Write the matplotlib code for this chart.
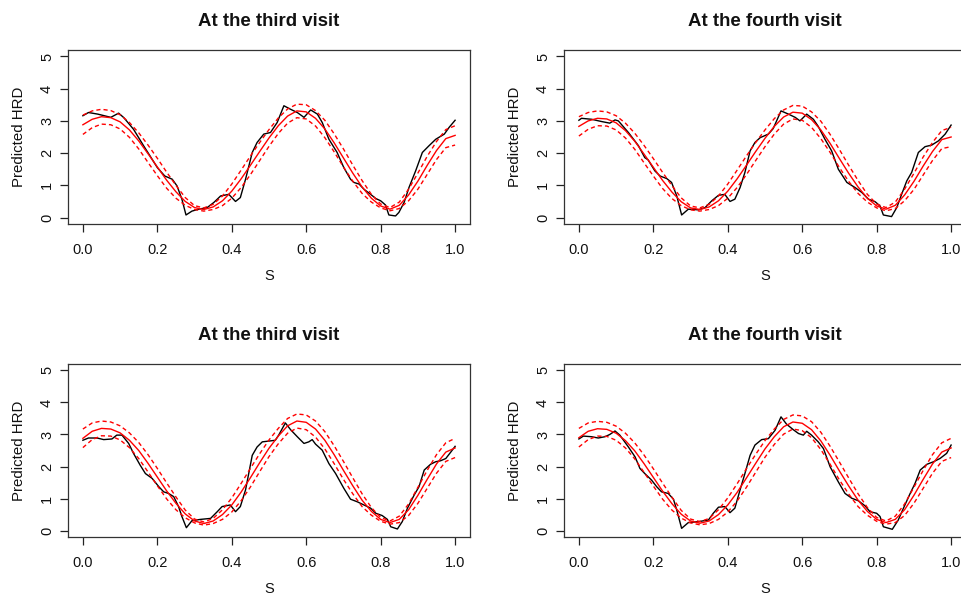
import matplotlib
matplotlib.use("Agg")
import matplotlib.pyplot as plt
import numpy as np

plt.rcParams['font.family'] = ['Liberation Sans', 'DejaVu Sans']

titles = ["At the third visit", "At the fourth visit", "At the third visit", "At the fourth visit"]
x_label = "S"
y_label = "Predicted HRD"
x_ticks = [0.0, 0.2, 0.4, 0.6, 0.8, 1.0]
x_tick_labels = ["0.0", "0.2", "0.4", "0.6", "0.8", "1.0"]
y_ticks = [0, 1, 2, 3, 4, 5]

# ---- black (observed) curves ----
tl_x = [0.0, 0.015, 0.04, 0.075, 0.096, 0.11, 0.136, 0.163, 0.18, 0.2, 0.22, 0.24, 0.253, 0.266, 0.277,
        0.293, 0.311, 0.334, 0.352, 0.37, 0.392, 0.41, 0.423, 0.437, 0.455, 0.468, 0.486, 0.504, 0.522,
        0.54, 0.558, 0.576, 0.594, 0.612, 0.63, 0.643, 0.661, 0.683, 0.701, 0.719, 0.728, 0.742, 0.755,
        0.773, 0.787, 0.8, 0.813, 0.822, 0.84, 0.849, 0.863, 0.876, 0.894, 0.912, 0.93, 0.948, 0.971,
        0.984, 1.0]
tl_y = [3.16, 3.26, 3.21, 3.11, 3.24, 3.10, 2.74, 2.23, 1.92, 1.55, 1.29, 1.19, 0.98, 0.57, 0.08,
        0.20, 0.26, 0.31, 0.47, 0.67, 0.72, 0.50, 0.62, 1.19, 2.02, 2.33, 2.59, 2.64, 2.95,
        3.47, 3.36, 3.26, 3.11, 3.34, 3.21, 2.95, 2.43, 2.02, 1.55, 1.19, 1.09, 1.04, 0.88,
        0.72, 0.59, 0.52, 0.39, 0.08, 0.05, 0.16, 0.47, 0.93, 1.45, 2.02, 2.23, 2.43, 2.59,
        2.80, 3.02]

tr_x = [0.0, 0.007, 0.034, 0.061, 0.083, 0.097, 0.106, 0.133, 0.16, 0.177, 0.186, 0.204, 0.218, 0.236,
        0.249, 0.263, 0.276, 0.294, 0.321, 0.339, 0.357, 0.375, 0.392, 0.406, 0.419, 0.433, 0.446, 0.46,
        0.473, 0.487, 0.509, 0.522, 0.543, 0.563, 0.581, 0.594, 0.612, 0.63, 0.643, 0.661, 0.679, 0.697,
        0.72, 0.742, 0.76, 0.778, 0.796, 0.809, 0.818, 0.84, 0.854, 0.867, 0.881, 0.894, 0.912, 0.93,
        0.948, 0.966, 0.984, 1.0]
tr_y = [3.02, 3.08, 3.05, 2.98, 2.93, 3.03, 3.00, 2.64, 2.23, 1.86, 1.79, 1.45, 1.29, 1.21,
        1.09, 0.67, 0.08, 0.26, 0.24, 0.31, 0.52, 0.69, 0.72, 0.50, 0.57, 0.93, 1.40, 2.07,
        2.33, 2.48, 2.59, 2.76, 3.31, 3.21, 3.11, 3.00, 3.21, 3.05, 2.83, 2.43, 2.07, 1.50,
        1.09, 0.93, 0.78, 0.57, 0.49, 0.36, 0.08, 0.03, 0.31, 0.72, 1.14, 1.40, 2.02, 2.20,
        2.25, 2.38, 2.59, 2.87]

bl_x = [0.0, 0.015, 0.038, 0.056, 0.078, 0.091, 0.105, 0.123, 0.136, 0.154, 0.168, 0.186, 0.204, 0.217,
        0.23, 0.244, 0.257, 0.266, 0.278, 0.293, 0.316, 0.343, 0.361, 0.374, 0.396, 0.41, 0.423, 0.437,
        0.455, 0.468, 0.482, 0.504, 0.517, 0.526, 0.544, 0.558, 0.576, 0.594, 0.607, 0.616, 0.625, 0.643,
        0.661, 0.679, 0.701, 0.719, 0.737, 0.755, 0.773, 0.787, 0.804, 0.818, 0.827, 0.845, 0.858, 0.872,
        0.89, 0.903, 0.917, 0.934, 0.948, 0.961, 0.975, 0.989, 1.0]
bl_y = [2.82, 2.89, 2.89, 2.84, 2.86, 2.98, 2.98, 2.72, 2.41, 2.04, 1.78, 1.63, 1.37, 1.21,
        1.16, 1.06, 0.75, 0.44, 0.09, 0.31, 0.35, 0.38, 0.59, 0.75, 0.80, 0.59, 0.75, 1.27,
        2.35, 2.61, 2.77, 2.80, 2.82, 2.98, 3.36, 3.15, 2.93, 2.72, 2.77, 2.84, 2.70, 2.51,
        2.09, 1.78, 1.32, 0.98, 0.90, 0.80, 0.70, 0.54, 0.47, 0.35, 0.12, 0.05, 0.28, 0.70,
        1.11, 1.37, 1.89, 2.07, 2.15, 2.18, 2.25, 2.46, 2.63]

br_x = [0.0, 0.012, 0.034, 0.052, 0.07, 0.083, 0.097, 0.11, 0.133, 0.151, 0.164, 0.177, 0.195, 0.209,
        0.222, 0.24, 0.254, 0.263, 0.276, 0.294, 0.321, 0.348, 0.361, 0.375, 0.392, 0.406, 0.419, 0.433,
        0.446, 0.46, 0.473, 0.491, 0.509, 0.527, 0.543, 0.558, 0.576, 0.59, 0.603, 0.612, 0.625, 0.643,
        0.657, 0.675, 0.697, 0.715, 0.733, 0.751, 0.769, 0.782, 0.8, 0.809, 0.818, 0.842, 0.858, 0.872,
        0.89, 0.903, 0.917, 0.935, 0.953, 0.97, 0.988, 1.0]
br_y = [2.86, 2.95, 2.93, 2.89, 2.93, 3.00, 3.11, 2.98, 2.61, 2.30, 1.94, 1.78, 1.58, 1.37,
        1.21, 1.16, 0.98, 0.64, 0.07, 0.25, 0.28, 0.33, 0.54, 0.73, 0.75, 0.56, 0.70, 1.27,
        1.78, 2.35, 2.67, 2.84, 2.87, 3.13, 3.55, 3.32, 3.15, 3.03, 2.98, 3.10, 2.98, 2.77,
        2.56, 1.99, 1.52, 1.16, 1.01, 0.93, 0.77, 0.59, 0.54, 0.44, 0.12, 0.04, 0.33, 0.70,
        1.16, 1.47, 1.89, 2.07, 2.15, 2.25, 2.41, 2.67]

# ---- red fitted curves (centre) and band half-widths on a common grid ----
fit_x = [0.0, 0.025, 0.05, 0.075, 0.1, 0.125, 0.15, 0.175, 0.2, 0.225, 0.25, 0.275, 0.3, 0.325,
         0.35, 0.375, 0.4, 0.425, 0.45, 0.475, 0.5, 0.525, 0.55, 0.575, 0.6, 0.625, 0.65, 0.675,
         0.7, 0.725, 0.75, 0.775, 0.8, 0.825, 0.85, 0.875, 0.9, 0.925, 0.95, 0.975, 1.0]

tl_fit = [2.88, 3.05, 3.13, 3.10, 2.97, 2.72, 2.38, 1.98, 1.57, 1.16, 0.80, 0.50, 0.31, 0.25,
          0.33, 0.52, 0.82, 1.20, 1.62, 2.05, 2.47, 2.85, 3.15, 3.31, 3.28, 3.08, 2.75, 2.32,
          1.85, 1.38, 0.95, 0.60, 0.36, 0.26, 0.38, 0.70, 1.13, 1.62, 2.08, 2.45, 2.55]
tr_fit = [2.83, 3.00, 3.08, 3.06, 2.94, 2.70, 2.37, 1.97, 1.56, 1.15, 0.79, 0.49, 0.30, 0.25,
          0.33, 0.52, 0.82, 1.20, 1.62, 2.05, 2.46, 2.83, 3.12, 3.27, 3.24, 3.04, 2.72, 2.30,
          1.83, 1.37, 0.95, 0.60, 0.36, 0.26, 0.38, 0.70, 1.12, 1.60, 2.05, 2.42, 2.50]
bl_fit = [2.88, 3.10, 3.19, 3.17, 3.05, 2.82, 2.50, 2.10, 1.67, 1.24, 0.85, 0.52, 0.30, 0.22,
          0.30, 0.50, 0.80, 1.20, 1.65, 2.12, 2.57, 2.95, 3.27, 3.42, 3.38, 3.17, 2.82, 2.37,
          1.88, 1.40, 0.95, 0.60, 0.35, 0.25, 0.35, 0.65, 1.10, 1.60, 2.08, 2.45, 2.58]
br_fit = [2.90, 3.10, 3.18, 3.16, 3.04, 2.81, 2.49, 2.09, 1.66, 1.23, 0.84, 0.51, 0.30, 0.23,
          0.30, 0.50, 0.80, 1.19, 1.64, 2.10, 2.55, 2.93, 3.24, 3.39, 3.35, 3.15, 2.80, 2.35,
          1.86, 1.39, 0.95, 0.60, 0.35, 0.25, 0.35, 0.65, 1.10, 1.60, 2.08, 2.45, 2.58]

top_band = [0.30, 0.26, 0.23, 0.22, 0.22, 0.23, 0.25, 0.27, 0.27, 0.25, 0.20, 0.12, 0.06, 0.05,
            0.08, 0.15, 0.22, 0.27, 0.29, 0.28, 0.26, 0.24, 0.22, 0.21, 0.22, 0.24, 0.27, 0.28,
            0.28, 0.25, 0.20, 0.12, 0.06, 0.05, 0.10, 0.18, 0.25, 0.28, 0.28, 0.28, 0.30]
bot_band = [0.29, 0.26, 0.23, 0.22, 0.22, 0.23, 0.25, 0.27, 0.27, 0.25, 0.20, 0.12, 0.06, 0.05,
            0.08, 0.15, 0.22, 0.27, 0.29, 0.28, 0.26, 0.24, 0.23, 0.22, 0.23, 0.25, 0.27, 0.28,
            0.28, 0.25, 0.20, 0.12, 0.06, 0.05, 0.10, 0.18, 0.25, 0.28, 0.29, 0.29, 0.30]

panels = [
    (tl_x, tl_y, tl_fit, top_band),
    (tr_x, tr_y, tr_fit, top_band),
    (bl_x, bl_y, bl_fit, bot_band),
    (br_x, br_y, br_fit, bot_band),
]

W, H = 962, 596
fig = plt.figure(figsize=(W / 100, H / 100), dpi=100)
fig.patch.set_facecolor("white")

# axes boxes in pixels: (left, top, right, bottom)
boxes = [(68, 50, 470, 224), (564, 50, 966, 224), (68, 364, 470, 537), (564, 364, 966, 537)]

for (bx0, by0, bx1, by1), title, (ox, oy, fit, hw) in zip(boxes, titles, panels):
    ax = fig.add_axes([bx0 / W, 1 - by1 / H, (bx1 - bx0) / W, (by1 - by0) / H])
    fx = np.array(fit_x)
    fc = np.array(fit)
    fh = np.array(hw)
    ax.plot(ox, oy, color="black", lw=1.0)
    ax.plot(fx, fc, color="#ff0000", lw=1.0)
    ax.plot(fx, fc + fh, color="#ff0000", lw=1.0, linestyle=(0, (3.0, 2.2)))
    ax.plot(fx, fc - fh, color="#ff0000", lw=1.0, linestyle=(0, (3.0, 2.2)))
    ax.set_xlim(-0.04, 1.04)
    ax.set_ylim(-0.2, 5.2)
    ax.set_xticks(x_ticks)
    ax.set_xticklabels(x_tick_labels)
    ax.set_yticks(y_ticks)
    ax.set_yticklabels([str(v) for v in y_ticks], rotation=90, va="center")
    ax.tick_params(axis="both", direction="out", length=6, width=0.9, colors="#222222",
                   labelsize=10.5, labelcolor="#111111")
    ax.tick_params(axis="x", pad=8)
    ax.tick_params(axis="y", pad=4)
    for s in ax.spines.values():
        s.set_linewidth(0.9)
        s.set_color("#333333")
    ax.set_title(title, fontsize=13.4, fontweight="bold", pad=17, color="#111111")
    ax.set_xlabel(x_label, fontsize=10.5, labelpad=8, color="#111111")
    ax.set_ylabel(y_label, fontsize=10.8, labelpad=10, color="#111111")

fig.savefig("out.png", dpi=100, facecolor="white")
